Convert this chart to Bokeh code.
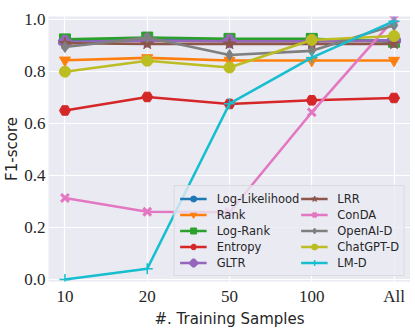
from bokeh.plotting import figure
from bokeh.models import FixedTicker, Legend, LegendItem, Range1d
from bokeh.embed import file_html
from bokeh.resources import INLINE

categories = ["10", "20", "50", "100", "All"]

log_likelihood = [0.915, 0.920, 0.918, 0.918, 0.918]
rank = [0.842, 0.851, 0.841, 0.841, 0.841]
log_rank = [0.922, 0.929, 0.924, 0.924, 0.913]
entropy = [0.649, 0.701, 0.674, 0.688, 0.697]
gltr = [0.912, 0.918, 0.915, 0.915, 0.918]
lrr = [0.907, 0.905, 0.905, 0.905, 0.905]
conda = [0.313, 0.260, 0.258, 0.642, 1.0]
openai_d = [0.893, 0.929, 0.862, 0.878, 0.976]
chatgpt_d = [0.798, 0.840, 0.814, 0.920, 0.935]
lm_d = [0.0, 0.041, 0.675, 0.852, 0.992]

series = [
    ("Log-Likelihood", log_likelihood, "#1f77b4", "circle"),
    ("Rank", rank, "#ff7f0e", "inverted_triangle"),
    ("Log-Rank", log_rank, "#2ca02c", "square"),
    ("Entropy", entropy, "#d62728", "hex"),
    ("GLTR", gltr, "#9467bd", "plus"),
    ("LRR", lrr, "#8c564b", "star"),
    ("ConDA", conda, "#e377c2", "x"),
    ("OpenAI-D", openai_d, "#7f7f7f", "diamond"),
    ("ChatGPT-D", chatgpt_d, "#bcbd22", "circle"),
    ("LM-D", lm_d, "#17becf", "cross"),
]

xs = list(range(len(categories)))

p = figure(width=410, height=330, output_backend="svg", toolbar_location=None,
           x_range=Range1d(-0.2, 4.2), y_range=Range1d(-0.008, 1.01),
           min_border_left=0, min_border_right=0, min_border_top=16, min_border_bottom=0)
p.background_fill_color = "#EAEAF2"
p.outline_line_color = None
p.grid.grid_line_color = "white"
p.grid.grid_line_width = 1.2

items = []
for name, vals, color, marker in series:
    r1 = p.line(xs, vals, line_color=color, line_width=2.6)
    size = 11
    lw = 1
    if marker in ("x", "cross", "plus"):
        lw = 3 if marker != "cross" else 1.5
    if marker == "star":
        size = 12
    r2 = p.scatter(xs, vals, marker=marker, size=size, fill_color=color,
                   line_color=color, line_width=lw)
    items.append(LegendItem(label=name, renderers=[r1, r2]))

legend = Legend(items=items, location="bottom_right", ncols=2,
                label_text_font="DejaVu Sans", label_text_font_size="11.5px",
                label_text_color="#262626",
                background_fill_color="#EAEAF2", background_fill_alpha=0.8,
                border_line_color="#cccccc", border_line_width=1,
                glyph_width=27, glyph_height=15, label_standoff=10,
                spacing=1, padding=5, margin=5)
p.add_layout(legend, "center")

p.xaxis.ticker = FixedTicker(ticks=xs)
p.xaxis.major_label_overrides = {i: c for i, c in enumerate(categories)}
p.yaxis.ticker = FixedTicker(ticks=[0.0, 0.2, 0.4, 0.6, 0.8, 1.0])
p.yaxis.major_label_overrides = {0.0: "0.0", 0.2: "0.2", 0.4: "0.4", 0.6: "0.6", 0.8: "0.8", 1.0: "1.0"}

for ax in (p.xaxis, p.yaxis):
    ax.axis_line_color = None
    ax.major_tick_line_color = None
    ax.minor_tick_line_color = None
    ax.major_tick_in = 0
    ax.major_tick_out = 0
    ax.minor_tick_in = 0
    ax.minor_tick_out = 0
    ax.major_label_text_font = "Liberation Serif"
    ax.major_label_text_font_size = "17px"
    ax.major_label_text_color = "#262626"
    ax.axis_label_text_font = "DejaVu Sans"
    ax.axis_label_text_font_size = "15px"
    ax.axis_label_text_font_style = "normal"
    ax.axis_label_text_color = "#262626"
    ax.major_label_standoff = 5

p.yaxis.major_label_standoff = 3
p.xaxis.axis_label = "#. Training Samples"
p.yaxis.axis_label = "F1-score"
p.xaxis.axis_label_standoff = 1
p.yaxis.axis_label_standoff = 0

open("out.html", "w").write(file_html(p, INLINE))
